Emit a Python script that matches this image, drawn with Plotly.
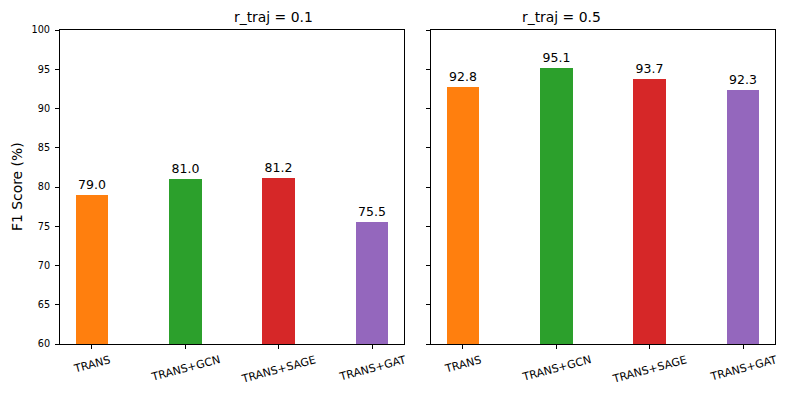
import plotly.graph_objects as go
from plotly.subplots import make_subplots

models = ["TRANS", "TRANS+GCN", "TRANS+SAGE", "TRANS+GAT"]
f1_r01 = [79.0, 81.0, 81.2, 75.5]
f1_r05 = [92.8, 95.1, 93.7, 92.3]
titles = ["r_traj = 0.1", "r_traj = 0.5"]
colors = ["#ff7f0e", "#2ca02c", "#d62728", "#9467bd"]
yticks = [60, 65, 70, 75, 80, 85, 90, 95, 100]

fig = make_subplots(rows=1, cols=2, shared_yaxes=True)
for i, vals in enumerate([f1_r01, f1_r05]):
    fig.add_trace(go.Bar(
        x=list(range(len(models))), y=vals, width=0.35,
        marker=dict(color=colors, line=dict(width=0)),
        text=[f"{v:.1f}" for v in vals], textposition="outside",
        textfont=dict(size=12.5, color="black", family="DejaVu Sans"),
        cliponaxis=False, showlegend=False,
    ), row=1, col=i + 1)

font = dict(family="DejaVu Sans", color="black")
axis_common = dict(showline=True, linecolor="black", linewidth=1, mirror=True,
                   ticks="outside", ticklen=4, tickcolor="black", showgrid=False,
                   zeroline=False, automargin=False)
fig.update_xaxes(**axis_common, tickvals=list(range(len(models))), showticklabels=False,
                 range=[-0.3425, 3.3425])
fig.update_yaxes(**axis_common, range=[60, 100], tickvals=yticks,
                 tickfont=dict(size=9.7, **font), ticklabelstandoff=3)
fig.update_yaxes(showticklabels=False, row=1, col=2)

fig.layout.xaxis.domain = [0, 344 / 715]
fig.layout.xaxis2.domain = [371 / 715, 1]

# rotated category labels, centred under their ticks (matplotlib style)
for xr in ["x", "x2"]:
    for j, m in enumerate(models):
        fig.add_annotation(text=m, x=j, xref=xr, y=0, yref="paper",
                           xanchor="center", yanchor="top", yshift=-7,
                           textangle=-15, showarrow=False,
                           font=dict(size=11, **font))

for i, t in enumerate(titles):
    xd = fig.layout["xaxis" if i == 0 else "xaxis2"].domain
    fig.add_annotation(text=t, x=(xd[0] + xd[1]) / 2, xref="paper", y=1, yref="paper",
                       yanchor="bottom", yshift=3, showarrow=False,
                       font=dict(size=13.9, **font))

fig.add_annotation(text="F1 Score (%)", x=0, xref="paper", y=0.5, yref="paper",
                   xanchor="center", yanchor="middle", xshift=-43, textangle=-90,
                   showarrow=False, font=dict(size=13.9, **font))

fig.update_layout(width=787, height=393, margin=dict(l=52, r=20, t=22, b=57),
                  plot_bgcolor="white", paper_bgcolor="white", bargap=0,
                  font=font)
fig.write_html("out.html")
